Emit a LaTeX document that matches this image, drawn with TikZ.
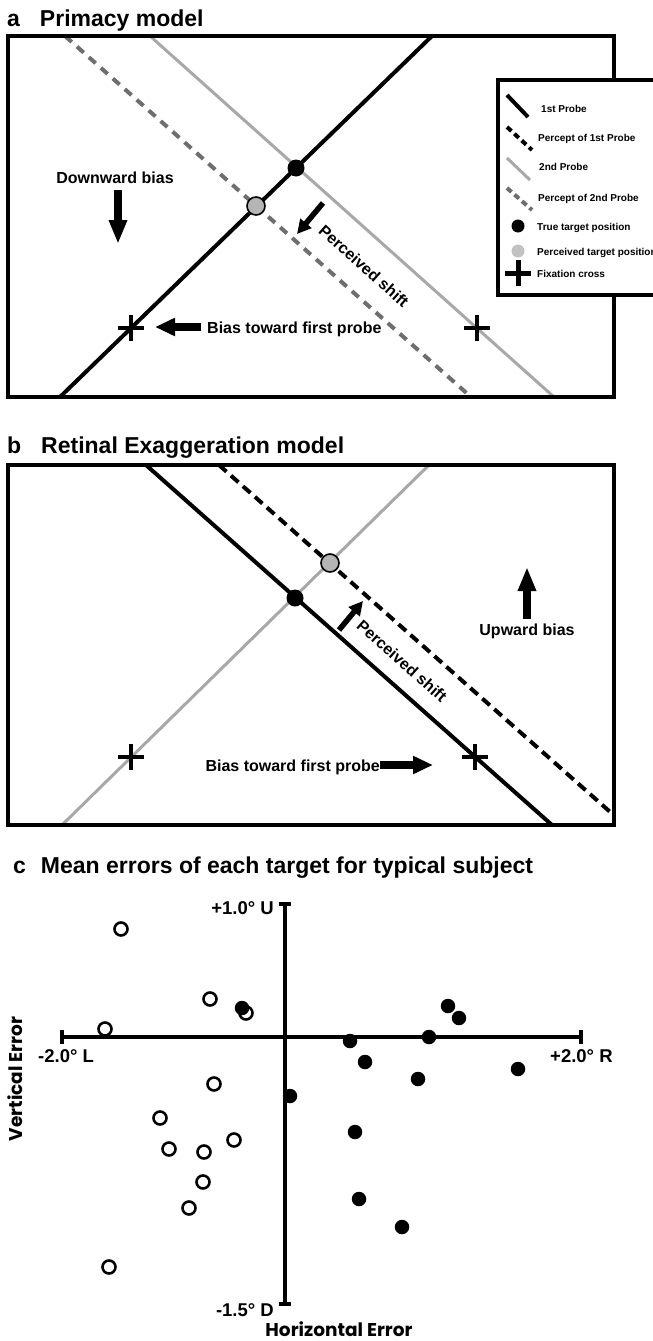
\documentclass[tikz,border=0pt]{standalone}
\usepackage{fontspec}
\setmainfont{Liberation Sans}
\newfontfamily\geo{Poppins}
\usetikzlibrary{arrows.meta,shapes.misc}
\definecolor{lightg}{HTML}{A8A8A8}
\definecolor{darkg}{HTML}{6E6E6E}
\definecolor{midg}{HTML}{B5B5B5}
\definecolor{legg}{HTML}{C2C2C2}
\begin{document}
\begin{tikzpicture}[x=1pt,y=-1pt,
  frame/.style={line width=3.5pt},
  probeA/.style={line width=4pt,black},
  probeB/.style={line width=3pt,lightg},
  percA/.style={line width=4pt,black,dash pattern=on 10pt off 6pt},
  percB/.style={line width=4pt,darkg,dash pattern=on 9pt off 7pt},
  truedot/.style={circle,fill=black,minimum size=17pt,inner sep=0pt},
  percdot/.style={circle,fill=midg,draw=black,line width=1.6pt,minimum size=18pt,inner sep=0pt},
  fixcross/.style={cross out,draw=black,line width=4.5pt,minimum size=14pt,inner sep=0pt,rotate=45},
  title/.style={font=\bfseries\fontsize{23}{25}\selectfont,anchor=base west,inner sep=0pt},
  lab/.style={font=\bfseries\fontsize{16}{18}\selectfont,inner sep=0pt},
  leg/.style={font=\bfseries\fontsize{10}{11}\selectfont,anchor=base west,inner sep=0pt},
  axl/.style={font=\bfseries\fontsize{18.5}{20}\selectfont,inner sep=0pt},
  axt/.style={font=\geo\bfseries\fontsize{18.5}{21}\selectfont,inner sep=0pt,anchor=base},
  bigarrow/.style={line width=7.5pt,-{Triangle[length=24pt,width=17pt]}},
  sidearrow/.style={line width=7.5pt,-{Triangle[length=20pt,width=17pt]}},
  smallarrow/.style={line width=5.5pt,-{Triangle[length=14pt,width=14pt]}},
  axis/.style={line width=4pt},
  opendot/.style={circle,draw=black,fill=white,line width=2.6pt,minimum size=13pt,inner sep=0pt},
  fulldot/.style={circle,fill=black,minimum size=14.5pt,inner sep=0pt}
]
\useasboundingbox[fill=white] (0,0) rectangle (653,1341);

% ================= Panel a =================
\node[title] (ta) at (7,27) {a\hspace{20pt}Primacy model};
\coordinate (fa1) at (8,36);
\coordinate (fa2) at (614,397);
\coordinate (pa1) at (60,397);  \coordinate (pa2) at (432,36);
\coordinate (qa1) at (150,36);  \coordinate (qa2) at (554,397);
\coordinate (ra1) at (65,36);   \coordinate (ra2) at (471,397);
\begin{scope}
  \clip (fa1) rectangle (fa2);
  \draw[probeB] (qa1) -- (qa2);
  \draw[percB] (ra1) -- (ra2);
  \draw[probeA] (pa1) -- (pa2);
\end{scope}
\draw[frame] (fa1) rectangle (fa2);
\node[truedot] (ta-dot) at (296,168) {};
\node[percdot] (pa-dot) at (256,206) {};
\node[fixcross] (xa1) at (131,328) {};
\node[fixcross] (xa2) at (477,328) {};

\node[lab,anchor=base] (da-t) at (115,183) {Downward bias};
\coordinate (da1) at (118,190); \coordinate (da2) at (118,244);
\draw[bigarrow] (da1) -- (da2);
\node[lab,anchor=base west] (ba-t) at (207,333) {Bias toward first probe};
\coordinate (ba1) at (201,327); \coordinate (ba2) at (155,327);
\draw[sidearrow] (ba1) -- (ba2);
\node[lab,rotate=-41.7] (sa-t) at (364,266) {Perceived shift};
\coordinate (sa1) at (323,203); \coordinate (sa2) at (297,234);
\draw[smallarrow] (sa1) -- (sa2);

% legend
\coordinate (lg1) at (498,80); \coordinate (lg2) at (670,295);
\draw[frame,fill=white] (lg1) rectangle (lg2);
\coordinate (l1a) at (507,95);  \coordinate (l1b) at (528,117);
\draw[line width=4pt] (l1a) -- (l1b);
\node[leg] (l1t) at (541,112.5) {1st Probe};
\coordinate (l2a) at (507,127); \coordinate (l2b) at (532,150);
\draw[line width=4pt,dash pattern=on 6pt off 4pt] (l2a) -- (l2b);
\node[leg] (l2t) at (538,141.5) {Percept of 1st Probe};
\coordinate (l3a) at (507,158); \coordinate (l3b) at (530,180);
\draw[line width=3pt,lightg] (l3a) -- (l3b);
\node[leg] (l3t) at (539,170.5) {2nd Probe};
\coordinate (l4a) at (507,188); \coordinate (l4b) at (532,210);
\draw[line width=4pt,darkg,dash pattern=on 6pt off 4pt] (l4a) -- (l4b);
\node[leg] (l4t) at (538,201.5) {Percept of 2nd Probe};
\node[circle,fill=black,minimum size=13pt,inner sep=0pt] (l5d) at (518,226) {};
\node[leg] (l5t) at (537,230.5) {True target position};
\node[circle,fill=legg,minimum size=13pt,inner sep=0pt] (l6d) at (518,251) {};
\node[leg] (l6t) at (537,255.5) {Perceived target position};
\node[cross out,draw=black,line width=5pt,minimum size=14pt,inner sep=0pt,rotate=45] (l7d) at (518,273) {};
\node[leg] (l7t) at (537,277.5) {Fixation cross};

% ================= Panel b =================
\node[title] (tb) at (7,453) {b\hspace{20pt}Retinal Exaggeration model};
\coordinate (fb1) at (8,465);
\coordinate (fb2) at (614,825);
\coordinate (pb1) at (146,465); \coordinate (pb2) at (552,825);
\coordinate (rb1) at (219,465); \coordinate (rb2) at (626,826);
\coordinate (qb1) at (62,825);  \coordinate (qb2) at (429,465);
\begin{scope}
  \clip (fb1) rectangle (fb2);
  \draw[probeB] (qb1) -- (qb2);
  \draw[percA] (rb1) -- (rb2);
  \draw[probeA] (pb1) -- (pb2);
\end{scope}
\draw[frame] (fb1) rectangle (fb2);
\node[truedot] (tb-dot) at (295,598) {};
\node[percdot] (pb-dot) at (330,563) {};
\node[fixcross] (xb1) at (131,757) {};
\node[fixcross] (xb2) at (475,757) {};

\node[lab,anchor=base] (ub-t) at (527,635) {Upward bias};
\coordinate (ub1) at (527,619); \coordinate (ub2) at (527,567);
\draw[bigarrow] (ub1) -- (ub2);
\node[lab,anchor=base east] (bb-t) at (380,771) {Bias toward first probe};
\coordinate (bb1) at (380,765); \coordinate (bb2) at (433,765);
\draw[sidearrow] (bb1) -- (bb2);
\node[lab,rotate=-41.6] (sb-t) at (402,661) {Perceived shift};
\coordinate (sb1) at (339,630); \coordinate (sb2) at (363,601);
\draw[smallarrow] (sb1) -- (sb2);

% ================= Panel c =================
\node[title] (tc) at (13,873) {c\hspace{15pt}Mean errors of each target for typical subject};
\coordinate (vt) at (285,904); \coordinate (vb) at (285,1304);
\coordinate (hl) at (62,1037); \coordinate (hr) at (581,1037);
\draw[axis] (vt) -- (vb);
\draw[axis] (hl) -- (hr);
\draw[axis] (vt) ++(-6,0) -- ++(12,0);
\draw[axis] (vb) ++(-6,0) -- ++(12,0);
\draw[axis] (hl) ++(0,-7) -- ++(0,14);
\draw[axis] (hr) ++(0,-7) -- ++(0,14);
\node[axl,anchor=base east] (lu) at (274,914) {+1.0° U};
\node[axl,anchor=base east] (ld) at (274,1316) {-1.5° D};
\node[axl,anchor=base west] (ll) at (38,1062) {-2.0° L};
\node[axl,anchor=base west] (lr) at (550,1062) {+2.0° R};
\node[axt] (hx) at (339,1336) {Horizontal Error};
\node[axt,rotate=90] (vy) at (22,1079) {Vertical Error};

% open circles
\node[opendot] (o1) at (121,929) {};
\node[opendot] (o2) at (210,999) {};
\node[opendot] (o3) at (105,1029) {};
\node[opendot] (o4) at (246,1013) {};
\node[opendot] (o5) at (214,1084) {};
\node[opendot] (o6) at (160,1118) {};
\node[opendot] (o7) at (169,1149) {};
\node[opendot] (o8) at (204,1152) {};
\node[opendot] (o9) at (234,1140) {};
\node[opendot] (o10) at (203,1182) {};
\node[opendot] (o11) at (189,1208) {};
\node[opendot] (o12) at (109,1267) {};
% filled circles
\node[fulldot] (f1) at (242,1008) {};
\node[fulldot] (f2) at (448,1006) {};
\node[fulldot] (f3) at (459,1018) {};
\node[fulldot] (f4) at (350,1041) {};
\node[fulldot] (f5) at (429,1037) {};
\node[fulldot] (f6) at (365,1062) {};
\node[fulldot] (f7) at (418,1079) {};
\node[fulldot] (f8) at (518,1069) {};
\node[fulldot] (f9) at (290,1096) {};
\node[fulldot] (f10) at (355,1132) {};
\node[fulldot] (f11) at (359,1199) {};
\node[fulldot] (f12) at (402,1227) {};
\end{tikzpicture}
\end{document}
